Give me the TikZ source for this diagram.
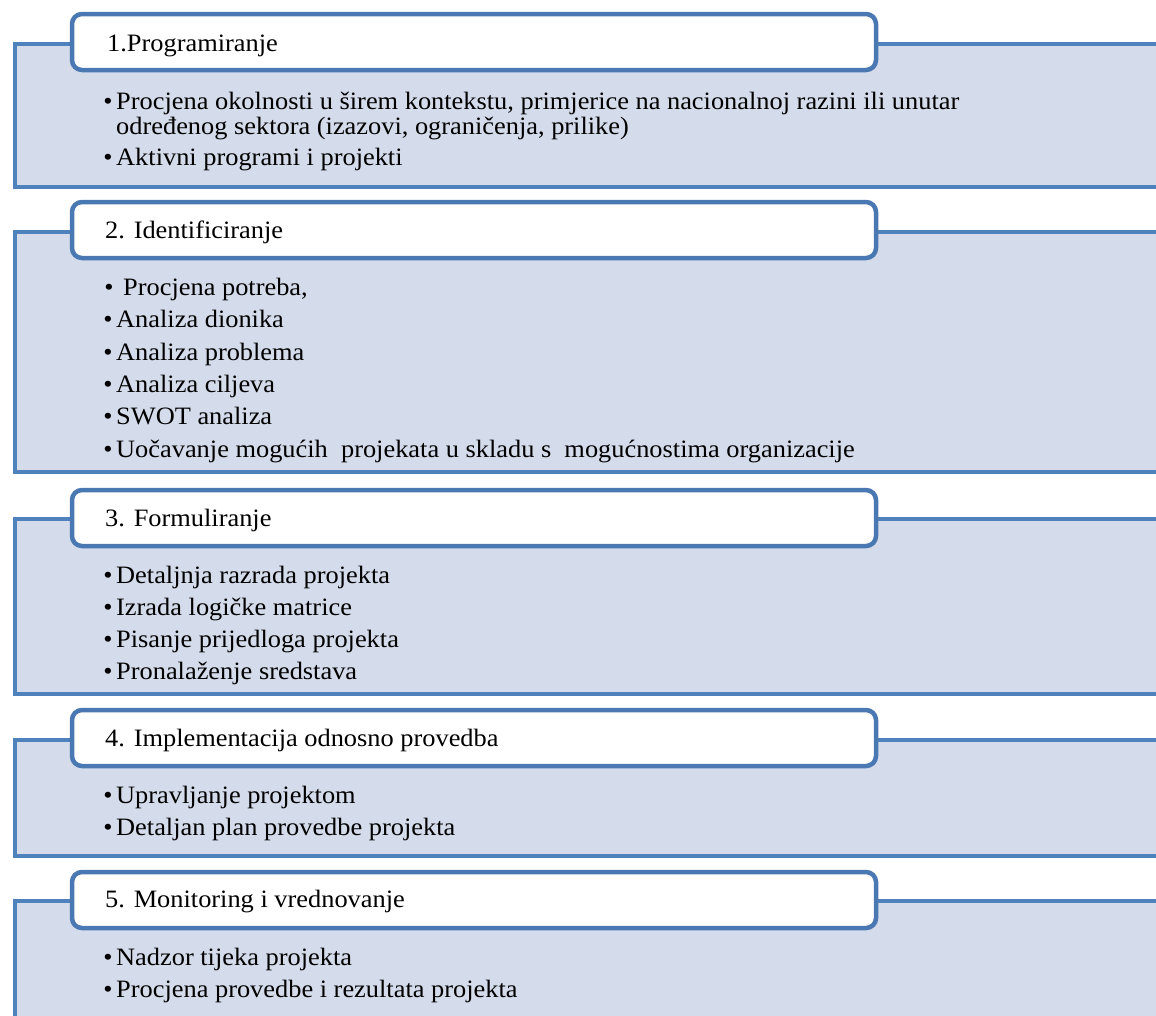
\documentclass[tikz,border=0pt]{standalone}
\usepackage{fontspec}
\setmainfont{Liberation Serif}[FakeStretch=1.055]
\definecolor{rimblue}{HTML}{4F81BD}
\definecolor{boxblue}{HTML}{4A78B3}
\definecolor{panelfill}{HTML}{D4DBEA}
\begin{document}
\begin{tikzpicture}[x=1pt,y=-1pt,
 panel/.style={draw=rimblue,fill=panelfill,line width=4.5pt,anchor=north west,inner sep=0pt,outer sep=0pt,minimum width=1200pt},
 titlebox/.style={draw=boxblue,fill=white,line width=4.5pt,rounded corners=10pt,anchor=north west,inner sep=0pt,outer sep=0pt,minimum width=804pt,minimum height=56pt},
 ttl/.style={anchor=base west,inner sep=0pt,font=\fontsize{25}{29}\selectfont},
 bul/.style={anchor=base,inner sep=0pt,font=\fontsize{25}{29}\selectfont},
 txt/.style={anchor=base west,inner sep=0pt,font=\fontsize{25}{29}\selectfont}]
\useasboundingbox (0,0) rectangle (1156,1015);
\clip (0,0) rectangle (1156,1015);
% panels
\node[panel,minimum height=143pt] (p1) at (15,44) {};
\node[panel,minimum height=240pt] (p2) at (15,232) {};
\node[panel,minimum height=175pt] (p3) at (15,519) {};
\node[panel,minimum height=116pt] (p4) at (15,740) {};
\node[panel,minimum height=140pt] (p5) at (15,901) {};
% title boxes
\node[titlebox] (t1) at (72,14) {};
\node[titlebox] (t2) at (72,202) {};
\node[titlebox] (t3) at (72,490) {};
\node[titlebox] (t4) at (72,710) {};
\node[titlebox] (t5) at (72,872) {};
% titles
\node[ttl] (h1) at (107,51) {1.Programiranje};
\node[ttl] (h2) at (105,238) {2. Identificiranje};
\node[ttl] (h3) at (105,526) {3. Formuliranje};
\node[ttl] (h4) at (105,746) {4. Implementacija odnosno provedba};
\node[ttl] (h5) at (105,907) {5. Monitoring i vrednovanje};
% section 1
\node[bul] (b11) at (108,109) {•};
\node[txt] (x11) at (116,109) {Procjena okolnosti u širem kontekstu, primjerice na nacionalnoj razini ili unutar};
\node[txt] (x11b) at (116,134) {određenog sektora (izazovi, ograničenja, prilike)};
\node[bul] (b12) at (108,165) {•};
\node[txt] (x12) at (116,165) {Aktivni programi i projekti};
% section 2
\node[bul] (b21) at (109,295) {•};
\node[txt] (x21) at (123,295) {Procjena potreba,};
\node[bul] (b22) at (108,327) {•};
\node[txt] (x22) at (116,327) {Analiza dionika};
\node[bul] (b23) at (108,360) {•};
\node[txt] (x23) at (116,360) {Analiza problema};
\node[bul] (b24) at (108,392) {•};
\node[txt] (x24) at (116,392) {Analiza ciljeva};
\node[bul] (b25) at (108,424) {•};
\node[txt] (x25) at (116,424) {SWOT analiza};
\node[bul] (b26) at (108,457) {•};
\node[txt] (x26) at (116,457) {Uočavanje mogućih\ \ projekata u skladu s\ \ mogućnostima organizacije};
% section 3
\node[bul] (b31) at (108,583) {•};
\node[txt] (x31) at (116,583) {Detaljnja razrada projekta};
\node[bul] (b32) at (108,615) {•};
\node[txt] (x32) at (116,615) {Izrada logičke matrice};
\node[bul] (b33) at (108,647) {•};
\node[txt] (x33) at (116,647) {Pisanje prijedloga projekta};
\node[bul] (b34) at (108,679) {•};
\node[txt] (x34) at (116,679) {Pronalaženje sredstava};
% section 4
\node[bul] (b41) at (108,803) {•};
\node[txt] (x41) at (116,803) {Upravljanje projektom};
\node[bul] (b42) at (108,835) {•};
\node[txt] (x42) at (116,835) {Detaljan plan provedbe projekta};
% section 5
\node[bul] (b51) at (108,965) {•};
\node[txt] (x51) at (116,965) {Nadzor tijeka projekta};
\node[bul] (b52) at (108,997) {•};
\node[txt] (x52) at (116,997) {Procjena provedbe i rezultata projekta};
\end{tikzpicture}
\end{document}
